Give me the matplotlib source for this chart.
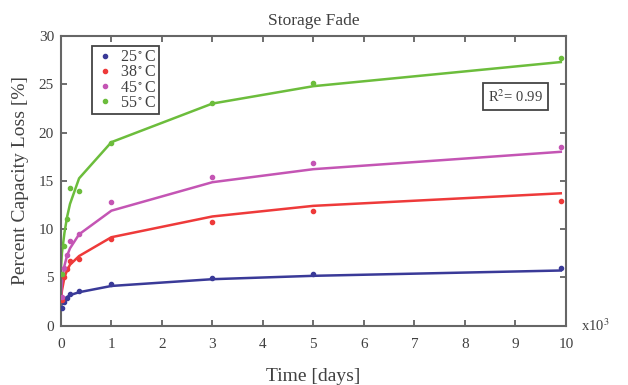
import numpy as np
import matplotlib
matplotlib.use("Agg")
import matplotlib.pyplot as plt

# measured points, time in thousands of days
t_meas = [0.02, 0.07, 0.12, 0.18, 0.36, 1, 3, 5, 9.9]
meas_25 = [1.85, 2.4, 2.8, 3.3, 3.6, 4.3, 4.95, 5.3, 6.0]
meas_38 = [2.6, 5.0, 5.9, 6.65, 6.9, 9.0, 10.75, 11.85, 12.9]
meas_45 = [3.0, 6.0, 7.3, 8.8, 9.45, 12.75, 15.35, 16.8, 18.5]
meas_55 = [5.3, 8.2, 11.0, 14.2, 13.9, 18.9, 23.1, 25.1, 27.7]

# model fit
t_fit = [0, 0.02, 0.07, 0.12, 0.18, 0.36, 1, 3, 5, 9.9]
fit_25 = [1.9, 2.3, 2.7, 2.95, 3.15, 3.45, 4.1, 4.8, 5.15, 5.7]
fit_38 = [2.3, 3.6, 5.0, 5.7, 6.3, 7.2, 9.15, 11.3, 12.4, 13.7]
fit_45 = [2.8, 4.5, 6.2, 7.2, 8.0, 9.45, 11.9, 14.85, 16.2, 18.0]
fit_55 = [5.8, 7.5, 9.6, 11.2, 12.6, 15.25, 19.0, 23.0, 24.8, 27.3]

labels = ["25$^\\circ$C", "38$^\\circ$C", "45$^\\circ$C", "55$^\\circ$C"]
colors = ["#3a3a98", "#ee3a3a", "#c455b4", "#6cbd3c"]

plt.rcParams["font.family"] = ["Liberation Serif", "DejaVu Serif"]
plt.rcParams["mathtext.fontset"] = "stix"
txt = "#404040"

fig = plt.figure(figsize=(6.28, 3.85), dpi=100)
ax = fig.add_axes([0.097, 0.1545, 0.804, 0.752])

meas = [meas_25, meas_38, meas_45, meas_55]
fits = [fit_25, fit_38, fit_45, fit_55]
for m, f, c, lab in zip(meas, fits, colors, labels):
    ax.plot(t_fit, f, color=c, lw=1.8, zorder=2)
    ax.plot(t_meas, m, "o", color=c, ms=3, label=lab, zorder=3)

ax.set_xlim(0, 10)
ax.set_ylim(0, 30)
ax.set_xticks(range(0, 11))
ax.set_yticks(range(0, 31, 5))
ax.tick_params(direction="in", top=True, right=True, length=4, width=1.2,
               colors="#555555", labelcolor=txt, labelsize=11, pad=5)
ax.tick_params(axis="x", pad=9)
for s in ax.spines.values():
    s.set_color("#666666")
    s.set_linewidth(1.5)

ax.set_title("Storage Fade", fontsize=12.5, color=txt, pad=8)
ax.set_xlabel("Time [days]", fontsize=14, color=txt, labelpad=12)
ax.set_ylabel("Percent Capacity Loss [%]", fontsize=14, color=txt, labelpad=7)
ax.text(1.03, 0.0, "x10$^3$", transform=ax.transAxes, fontsize=10.5,
        color=txt, va="center", ha="left")

leg = ax.legend(loc="upper left", bbox_to_anchor=(0.045, 0.993), fontsize=11.5,
                handletextpad=0.3, handlelength=1.3, borderpad=0.2,
                labelspacing=-0.05, fancybox=False, framealpha=1,
                edgecolor="#444444", markerscale=1.0)
leg.get_frame().set_linewidth(1.3)
for t in leg.get_texts():
    t.set_color(txt)

ax.text(0.9, 0.79, "R$^2$= 0.99", transform=ax.transAxes, fontsize=10.5,
        color=txt, ha="center", va="center",
        bbox=dict(boxstyle="square,pad=0.35", fc="white", ec="#444444", lw=1.3))

fig.savefig("out.png", dpi=100)
